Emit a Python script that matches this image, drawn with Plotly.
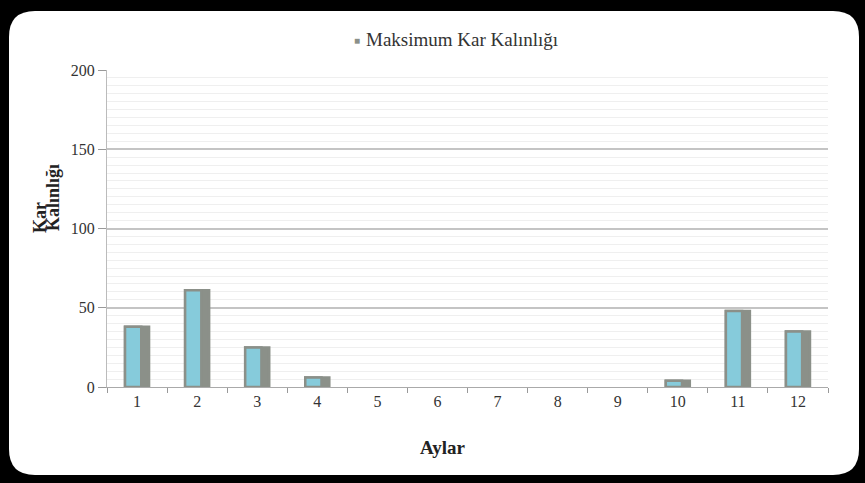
import plotly.graph_objects as go

# Monthly maximum snow depth
months = ["1", "2", "3", "4", "5", "6", "7", "8", "9", "10", "11", "12"]
max_snow = [38, 61, 25, 6, 0, 0, 0, 0, 0, 4, 48, 35]
y_ticks = [0, 50, 100, 150, 200]

W, H = 865, 483
L, R, T, B = 107, 828, 70, 387  # plot area in pixels


def px(x):
    return (x - L) / (R - L)


def py(y):
    return (B - y) / (B - T)


FACE = "#86cbdb"
SIDE = "#8b9089"
SERIF = "Liberation Serif"

# outline only on non-empty columns so zero months stay blank
edge = [2.5 if v > 0 else 0 for v in max_snow]

fig = go.Figure()

# gray body of each column (gives the shaded right side and top)
fig.add_trace(go.Bar(
    x=months, y=max_snow, name="Maksimum Kar Kalınlığı",
    width=0.4, offset=-0.2,
    marker=dict(color=SIDE, line=dict(color=SIDE, width=edge)),
    showlegend=False,
))
# cyan front face of each column
fig.add_trace(go.Bar(
    x=months, y=max_snow, name="face",
    width=0.27, offset=-0.2,
    marker=dict(color=FACE, line=dict(color=SIDE, width=edge)),
    showlegend=False,
))

# white rounded card on the black background
x0, x1, y0, y1, r = 9, 859, 11, 475, 26
path = (
    f"M {px(x0 + r)} {py(y0)} L {px(x1 - r)} {py(y0)} "
    f"Q {px(x1)} {py(y0)} {px(x1)} {py(y0 + r)} "
    f"L {px(x1)} {py(y1 - r)} Q {px(x1)} {py(y1)} {px(x1 - r)} {py(y1)} "
    f"L {px(x0 + r)} {py(y1)} Q {px(x0)} {py(y1)} {px(x0)} {py(y1 - r)} "
    f"L {px(x0)} {py(y0 + r)} Q {px(x0)} {py(y0)} {px(x0 + r)} {py(y0)} Z"
)
fig.add_shape(type="path", path=path, xref="paper", yref="paper",
              fillcolor="white", line=dict(width=0), layer="below")

# legend line: small gray square plus series name
fig.add_annotation(
    text="■", xref="paper", yref="paper", x=px(357), y=py(41),
    xanchor="center", yanchor="middle", showarrow=False,
    font=dict(family=SERIF, size=10, color=SIDE),
)
fig.add_annotation(
    text="Maksimum Kar Kalınlığı",
    xref="paper", yref="paper", x=px(364), y=py(40),
    xanchor="left", yanchor="middle", showarrow=False,
    font=dict(family=SERIF, size=19, color="#333"),
)

# y axis title, two tightly stacked lines
fig.add_annotation(
    text="<b>Kar</b>", textangle=-90,
    xref="paper", yref="paper", x=px(28), y=py(218),
    showarrow=False, font=dict(family=SERIF, size=18, color="#222"),
)
fig.add_annotation(
    text="<b>Kalınlığı</b>", textangle=-90,
    xref="paper", yref="paper", x=px(41), y=py(198),
    showarrow=False, font=dict(family=SERIF, size=18, color="#222"),
)

# x axis title
fig.add_annotation(
    text="<b>Aylar</b>", xref="paper", yref="paper", x=px(443), y=py(447),
    xanchor="center", yanchor="middle", showarrow=False,
    font=dict(family=SERIF, size=19, color="#222"),
)

fig.update_layout(
    width=W, height=H,
    margin=dict(l=L, r=W - R, t=T, b=H - B),
    paper_bgcolor="black",
    plot_bgcolor="#e2e2e2",
    barmode="overlay",
    showlegend=False,
    font=dict(family=SERIF, size=14, color="#333"),
    xaxis=dict(
        type="category", tickson="boundaries", ticks="outside", ticklen=5,
        tickcolor="#999", showline=True, linecolor="#aaa", showgrid=False,
        tickfont=dict(family=SERIF, size=16, color="#333"),
    ),
    yaxis=dict(
        range=[0, 200], tickvals=y_ticks, ticks="outside", ticklen=8,
        tickcolor="#999", showline=True, linecolor="#bbb",
        gridcolor="#c4c4c4", gridwidth=2,
        minor=dict(dtick=5, showgrid=True, gridcolor="#efefef", gridwidth=1),
        tickfont=dict(family=SERIF, size=16, color="#333"),
        zeroline=False,
    ),
)

fig.write_html("out.html")
